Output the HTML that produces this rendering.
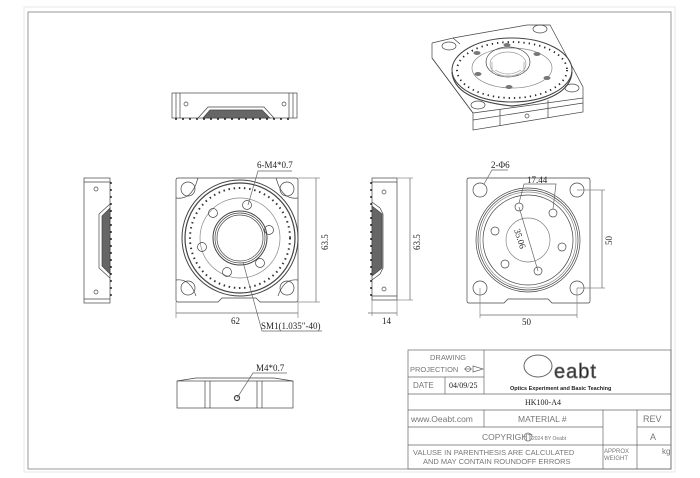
<!DOCTYPE html>
<html><head><meta charset="utf-8"><style>
html,body{margin:0;padding:0;background:#fff;}
svg{display:block}
text{font-family:"Liberation Serif",serif;fill:#222}
.s{font-family:"Liberation Sans",sans-serif;fill:#777}
</style></head><body>
<svg width="700" height="478" viewBox="0 0 700 478" xmlns="http://www.w3.org/2000/svg">
<g fill="none" stroke="#444" stroke-width="0.7">
<rect x="24" y="7" width="651" height="465" stroke="#ddd"/>
<rect x="28" y="12" width="643" height="457" stroke="#999" stroke-width="1"/>

<!-- top view -->
<rect x="172" y="93" width="125" height="25"/>
<line x1="176" y1="93" x2="176" y2="118"/><line x1="180" y1="93" x2="180" y2="118"/>
<line x1="289" y1="93" x2="289" y2="118"/><line x1="293" y1="93" x2="293" y2="118"/>
<circle cx="186" cy="104" r="2"/><circle cx="284" cy="104" r="2"/>
<path d="M198 118 L208 107 L264 107 L274 118" />
<path d="M203 118 L210 110 L262 110 L270 118 Z" fill="#666"/>
<line x1="175" y1="119" x2="294" y2="119" stroke="#222" stroke-width="1.4" stroke-dasharray="2 5"/>

<!-- left view -->
<rect x="84" y="178" width="26" height="125"/>
<line x1="84" y1="182" x2="110" y2="182"/><line x1="84" y1="299" x2="110" y2="299"/>
<circle cx="96" cy="189" r="2"/><circle cx="96" cy="292" r="2"/>
<path d="M110 204 L99 214 L99 268 L110 278"/>
<path d="M110 208 L102 216 L102 266 L110 274 Z" fill="#666"/>
<line x1="111" y1="182" x2="111" y2="299" stroke="#222" stroke-width="1.4" stroke-dasharray="2 5"/>

<!-- front view -->
<path d="M178 178 L296 178 Q298 178 298 180 L298 300 Q298 302 296 302 L260 302 L256 298 L222 298 L218 302 L178 302 Q176 302 176 300 L176 180 Q176 178 178 178 Z"/>
<circle cx="188" cy="189" r="7"/><circle cx="287" cy="189" r="7"/>
<circle cx="188" cy="288" r="7"/><circle cx="287" cy="288" r="7"/>
<path d="M176 198 Q190 200 196 184 L198 178 M298 198 Q284 200 278 184 L276 178 M176 280 Q190 278 196 296 M298 280 Q284 278 278 296"/>
<circle cx="240" cy="238" r="58" stroke-width="1"/>
<circle cx="240" cy="238" r="55" stroke-width="1.2"/>
<circle cx="240" cy="238" r="50" stroke="#333" stroke-width="2" stroke-dasharray="1.5 3.7"/>
<circle cx="240" cy="238" r="40" stroke="#888"/>
<circle cx="240" cy="238" r="27" stroke-width="1"/>
<circle cx="240" cy="238" r="25"/>
<circle cx="240" cy="238" r="23"/>
<circle cx="247" cy="205" r="4.5"/><circle cx="213" cy="213" r="4.5"/><circle cx="269" cy="230" r="4.5"/>
<circle cx="202" cy="247" r="4.5"/><circle cx="260" cy="263" r="4.5"/><circle cx="227" cy="272" r="4.5"/>
<line x1="298" y1="178" x2="320" y2="178" stroke="#888"/><line x1="298" y1="302" x2="320" y2="302" stroke="#888"/>
<line x1="316" y1="178" x2="316" y2="302" stroke="#666"/>
<line x1="176" y1="302" x2="176" y2="318" stroke="#888"/><line x1="298" y1="302" x2="298" y2="318" stroke="#888"/>
<line x1="176" y1="313" x2="298" y2="313" stroke="#666"/>
<polyline points="248,205 258,171 292,171" stroke="#666"/>
<polyline points="243,262 262,331 322,331" stroke="#666"/>

<!-- right view -->
<rect x="372" y="178" width="25" height="122"/>
<line x1="372" y1="182" x2="397" y2="182"/><line x1="372" y1="296" x2="397" y2="296"/>
<circle cx="384" cy="192" r="2"/><circle cx="384" cy="289" r="2"/>
<path d="M372 202 L380 208 L383 214 L383 268 L380 274 L372 280"/>
<path d="M372 206 L382 214 L382 268 L372 276 Z" fill="#666"/>
<line x1="371" y1="182" x2="371" y2="299" stroke="#222" stroke-width="1.4" stroke-dasharray="2 5"/>
<line x1="397" y1="178" x2="413" y2="178" stroke="#888"/><line x1="397" y1="300" x2="413" y2="300" stroke="#888"/>
<line x1="410" y1="178" x2="410" y2="300" stroke="#666"/>
<line x1="372" y1="300" x2="372" y2="316" stroke="#888"/><line x1="397" y1="300" x2="397" y2="316" stroke="#888"/>
<line x1="368" y1="313" x2="397" y2="313" stroke="#666"/>

<!-- back view -->
<path d="M469 178 L588 178 Q590 178 590 180 L590 301 Q590 303 588 303 L552 303 L548 299 L508 299 L504 303 L469 303 Q467 303 467 301 L467 180 Q467 178 469 178 Z"/>
<circle cx="480" cy="190" r="7"/><circle cx="577" cy="190" r="7"/>
<circle cx="480" cy="288" r="7"/><circle cx="577" cy="288" r="7"/>
<circle cx="528" cy="240" r="52"/><circle cx="528" cy="240" r="50"/>
<circle cx="528" cy="240" r="48" stroke="#888"/><circle cx="528" cy="240" r="45"/>
<circle cx="528" cy="240" r="22" stroke="#888"/>
<circle cx="519" cy="207" r="4"/><circle cx="553" cy="213" r="4"/><circle cx="495" cy="231" r="4"/>
<circle cx="562" cy="247" r="4"/><circle cx="505" cy="264" r="4"/><circle cx="538" cy="271" r="4"/>
<line x1="519" y1="207" x2="538" y2="271" stroke="#666"/>
<polyline points="519,203 524,184 556,184 553,209" stroke="#666"/>
<polyline points="484,184 492,170 508,170" stroke="#666"/>
<line x1="577" y1="190" x2="605" y2="190" stroke="#888"/><line x1="577" y1="288" x2="605" y2="288" stroke="#888"/>
<line x1="602" y1="190" x2="602" y2="288" stroke="#666"/>
<line x1="480" y1="288" x2="480" y2="318" stroke="#888"/><line x1="577" y1="288" x2="577" y2="318" stroke="#888"/>
<line x1="480" y1="315" x2="577" y2="315" stroke="#666"/>

<!-- bottom view -->
<path d="M177 381 L196 378 L274 378 L293 381"/>
<rect x="177" y="381" width="116" height="27"/>
<line x1="205" y1="381" x2="205" y2="408"/><line x1="210" y1="381" x2="210" y2="408"/>
<line x1="257" y1="381" x2="257" y2="408"/><line x1="262" y1="381" x2="262" y2="408"/>
<circle cx="237" cy="398" r="2.5" stroke-width="1.2"/>
<polyline points="237,398 253,373 287,373" stroke="#666"/>

<!-- iso view -->
<path d="M432 43 L453 38 L460 44 M453 38 L527 25 L550 25 L557 38 L583 87 L583 98 M432 43 L432 58 L473 113 L473 130 L583 112 L583 98 L473 113"/>
<path d="M432 58 L473 113 M500 126 L500 109 M548 118 L548 100 M473 120 L583 103"/>
<ellipse cx="449" cy="46" rx="7" ry="4"/><ellipse cx="540" cy="29" rx="7" ry="4"/>
<ellipse cx="572" cy="88" rx="7" ry="4"/><ellipse cx="478" cy="105" rx="7" ry="4"/>
<circle cx="527" cy="116" r="2"/>
<ellipse cx="512" cy="70" rx="60" ry="32" stroke-width="1"/>
<path d="M452 72 Q454 100 512 106 Q570 100 572 72" stroke-width="1.2"/>
<ellipse cx="512" cy="70" rx="55" ry="28" stroke="#222" stroke-width="1.8" stroke-dasharray="1.3 4"/>
<ellipse cx="512" cy="68" rx="40" ry="20" stroke="#888"/>
<ellipse cx="508" cy="62" rx="22" ry="15"/><ellipse cx="508" cy="64" rx="18" ry="12" stroke="#999"/>
<path d="M492 62 L492 72 M524 62 L524 72 M495 70 Q508 78 521 70 M497 74 Q508 80 519 74" stroke="#999"/>
<g fill="#777" stroke="none">
<ellipse cx="507" cy="45" rx="3.5" ry="2"/><ellipse cx="477" cy="53" rx="3.5" ry="2"/><ellipse cx="537" cy="54" rx="3.5" ry="2"/>
<ellipse cx="478" cy="74" rx="3.5" ry="2"/><ellipse cx="547" cy="78" rx="3.5" ry="2"/><ellipse cx="509" cy="87" rx="3.5" ry="2"/>
</g>
</g>

<g font-size="9">
<text x="257" y="168">6-M4*0.7</text>
<text x="261" y="329">SM1(1.035″-40)</text>
<text x="231" y="324">62</text>
<text transform="translate(328,250) rotate(-90)">63.5</text>
<text transform="translate(420,250) rotate(-90)">63.5</text>
<text x="382" y="324">14</text>
<text x="491" y="168">2-Φ6</text>
<text x="527" y="183">17.44</text>
<text transform="translate(514,230) rotate(72)">35.06</text>
<text transform="translate(612,245) rotate(-90)">50</text>
<text x="522" y="325">50</text>
<text x="256" y="371">M4*0.7</text>
</g>

<g fill="none" stroke="#666" stroke-width="0.7">
<rect x="408" y="350" width="263" height="119"/>
<line x1="408" y1="377" x2="484" y2="377"/><line x1="484" y1="350" x2="484" y2="394"/>
<line x1="445" y1="377" x2="445" y2="394"/>
<line x1="408" y1="394" x2="671" y2="394"/>
<line x1="408" y1="410" x2="671" y2="410"/>
<line x1="408" y1="427" x2="603" y2="427"/><line x1="637" y1="427" x2="671" y2="427"/>
<line x1="408" y1="445" x2="671" y2="445"/>
<line x1="484" y1="410" x2="484" y2="427"/>
<line x1="603" y1="410" x2="603" y2="469"/><line x1="637" y1="410" x2="637" y2="469"/>
<circle cx="468" cy="369" r="2.5"/><line x1="464" y1="369" x2="472" y2="369"/>
<path d="M473 366 L483 369 L473 372 Z"/>
<ellipse cx="538" cy="366" rx="14" ry="11" stroke-width="1"/>
</g>
<g class="s" font-size="7.5">
<text class="s" x="430" y="360">DRAWING</text>
<text class="s" x="410" y="372">PROJECTION</text>
<text class="s" x="413" y="388" font-size="8">DATE</text>
<text x="449" y="388" font-size="8">04/09/25</text>
<text x="554" y="378" font-size="20" fill="#fff" stroke="#777" stroke-width="0.8" style="font-family:'Liberation Sans',sans-serif;letter-spacing:1px">eabt</text>
<text x="510" y="390" font-size="5.5" fill="#333" style="font-family:'Liberation Sans',sans-serif;font-weight:bold">Optics Experiment and Basic Teaching</text>
<text x="525" y="405" font-size="8">HK100-A4</text>
<text class="s" x="411" y="422" font-size="8.5">www.Oeabt.com</text>
<text class="s" x="518" y="422" font-size="8.5">MATERIAL  #</text>
<text class="s" x="643" y="422" font-size="9">REV</text>
<text class="s" x="650" y="440" font-size="9">A</text>
<text class="s" x="482" y="440" font-size="8.5">COPYRIGHT</text>
<text class="s" x="532" y="440" font-size="5" fill="#555">2024 BY Oeabt</text>
<text class="s" x="413" y="455" font-size="7.5">VALUSE IN PARENTHESIS ARE CALCULATED</text>
<text class="s" x="423" y="464" font-size="7.5">AND MAY CONTAIN ROUNDOFF ERRORS</text>
<text class="s" x="604" y="453" font-size="6">APPROX</text>
<text class="s" x="604" y="460" font-size="6">WEIGHT</text>
<text class="s" x="662" y="454" font-size="8">kg</text>
</g>
<circle cx="528" cy="437" r="4" fill="none" stroke="#666" stroke-width="0.7"/>
</svg>
</body></html>
